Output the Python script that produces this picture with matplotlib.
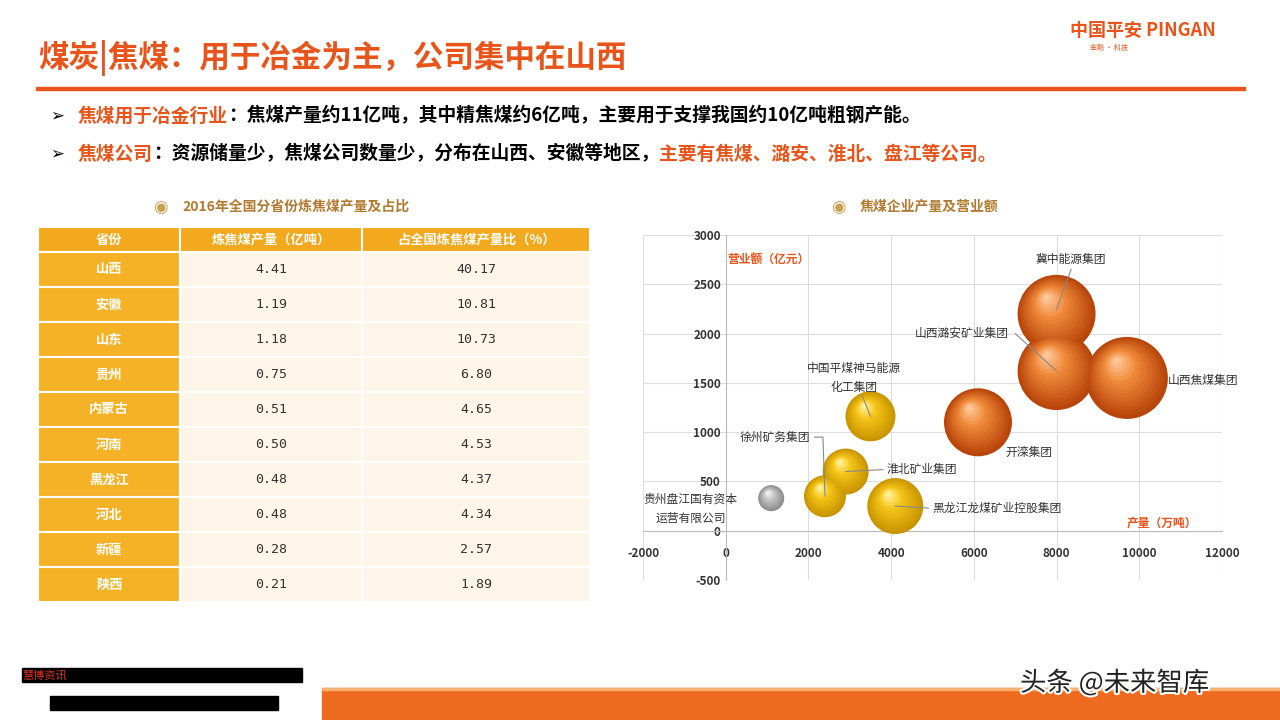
import matplotlib
matplotlib.use("Agg")
import matplotlib.pyplot as plt
from matplotlib.patches import Rectangle
import matplotlib.patheffects as pe
import numpy as np

plt.rcParams['font.family'] = ['Noto Sans CJK SC', 'DejaVu Sans']
plt.rcParams['axes.unicode_minus'] = False

provinces = ["山西", "安徽", "山东", "贵州", "内蒙古", "河南", "黑龙江", "河北", "新疆", "陕西"]
output = ["4.41", "1.19", "1.18", "0.75", "0.51", "0.50", "0.48", "0.48", "0.28", "0.21"]
share = ["40.17", "10.81", "10.73", "6.80", "4.65", "4.53", "4.37", "4.34", "2.57", "1.89"]
headers = ["省份", "炼焦煤产量（亿吨）", "占全国炼焦煤产量比（%）"]

companies = ["冀中能源集团", "山西潞安矿业集团", "山西焦煤集团", "开滦集团", "中国平煤神马能源\n化工集团",
             "淮北矿业集团", "徐州矿务集团", "黑龙江龙煤矿业控股集团", "贵州盘江国有资本\n运营有限公司"]
prod = [8000, 8000, 9700, 6100, 3500, 2900, 2400, 4100, 1100]
revenue = [2200, 1620, 1550, 1100, 1160, 600, 350, 250, 330]
bubble = [39, 39, 41, 34, 25, 23, 21, 28, 13]
kind = ["o", "o", "o", "o", "y", "y", "y", "y", "g"]
label_pos = [(7500, 2750, "left"), (6850, 2000, "right"), (10700, 1520, "left"), (6750, 790, "left"),
             (3100, 1550, "center"), (3900, 620, "left"), (2050, 950, "right"), (5000, 230, "left"),
             (-850, 220, "center")]
leaders = [[(8000, 2250), (8350, 2650)], [(8000, 1620), (7000, 2000)], None, None,
           [(3500, 1160), (3300, 1370)], [(2900, 600), (3800, 620)], [(2400, 350), (2350, 950), (2150, 950)],
           [(4100, 250), (4900, 230)], None]

fig = plt.figure(figsize=(12.8, 7.2), dpi=100)
W, H = 1280, 720
def fx(x): return x / W
def fy(y): return 1 - y / H

orange = "#E8541A"
fig.text(fx(38), fy(58), "煤炭|焦煤：用于冶金为主，公司集中在山西", fontsize=22, color=orange,
         fontweight="bold", va="center")
fig.add_artist(Rectangle((fx(36), fy(90)), fx(1245 - 36), 3 / H, color=orange, transform=fig.transFigure))
fig.text(fx(1070), fy(30), "中国平安 PINGAN", fontsize=13, color="#E8541A", fontweight="bold", va="center")
fig.text(fx(1090), fy(48), "金融 · 科技", fontsize=5, color="#E8541A", va="center")

renderer = fig.canvas.get_renderer()
def chain(x, y, parts):
    for txt, col in parts:
        t = fig.text(fx(x), fy(y), txt, fontsize=13.5, color=col, va="center", fontweight="bold")
        x += t.get_window_extent(renderer).width

fig.text(fx(50), fy(116), "➢", fontsize=12, va="center", family=['DejaVu Sans'])
chain(78, 116, [("焦煤用于冶金行业", orange), ("：焦煤产量约11亿吨，其中精焦煤约6亿吨，主要用于支撑我国约10亿吨粗钢产能。", "black")])
fig.text(fx(50), fy(154), "➢", fontsize=12, va="center", family=['DejaVu Sans'])
chain(78, 154, [("焦煤公司", orange), ("：资源储量少，焦煤公司数量少，分布在山西、安徽等地区，", "black"),
                ("主要有焦煤、潞安、淮北、盘江等公司。", orange)])

for x, t in [(160, "2016年全国分省份炼焦煤产量及占比"), (838, "焦煤企业产量及营业额")]:
    fig.text(fx(x), fy(207), "◉", fontsize=12, color="#C8A050", va="center", ha="center", family=['DejaVu Sans'])
    fig.text(fx(x + 22), fy(207), t, fontsize=10, color="#B07A30", va="center", fontweight="bold")

tax = fig.add_axes([fx(38), fy(602), fx(590 - 38), (602 - 227) / H])
tax.set_xlim(0, 552); tax.set_ylim(375, 0); tax.axis("off")
cols = [0, 142, 324, 552]
rows_y = [0, 25] + [25 + 35 * (i + 1) for i in range(10)]
for j in range(3):
    tax.add_patch(Rectangle((cols[j], 0), cols[j + 1] - cols[j], 25, facecolor="#F2A91E", edgecolor="white", lw=1.5))
    tax.text((cols[j] + cols[j + 1]) / 2, 12.5, headers[j], ha="center", va="center", color="white",
             fontsize=9.5, fontweight="bold")
for i in range(10):
    y0 = rows_y[i + 1]; h = rows_y[i + 2] - y0
    vals = [provinces[i], output[i], share[i]]
    for j in range(3):
        fc = "#F5B227" if j == 0 else "#FDF6E8"
        tax.add_patch(Rectangle((cols[j], y0), cols[j + 1] - cols[j], h, facecolor=fc, edgecolor="white", lw=1.5))
        tax.text((cols[j] + cols[j + 1]) / 2, y0 + h / 2, vals[j], ha="center", va="center",
                 color="white" if j == 0 else "#333333", fontsize=9.5, fontweight="bold" if j == 0 else "normal",
                 family=['Noto Sans CJK SC'] if j == 0 else ['DejaVu Sans Mono'])

ax = fig.add_axes([fx(643), fy(580), fx(1222 - 643), (580 - 235) / H])
ax.set_xlim(-2000, 12000); ax.set_ylim(-500, 3000)
ax.set_xticks(range(-2000, 12001, 2000)); ax.set_yticks(range(-500, 3001, 500))
ax.grid(True, color="#DDDDDD", lw=0.8)
ax.set_axisbelow(True)
for s in ax.spines.values():
    s.set_visible(False)
ax.spines['left'].set_visible(True); ax.spines['left'].set_position(('data', 0)); ax.spines['left'].set_color("#BBBBBB")
ax.spines['bottom'].set_visible(True); ax.spines['bottom'].set_position(('data', 0)); ax.spines['bottom'].set_color("#BBBBBB")
ax.tick_params(length=0, labelsize=8.5, colors="#333333")
ax.tick_params(axis='x', pad=12)
for lab in ax.get_xticklabels() + ax.get_yticklabels():
    lab.set_fontweight("bold")

cmaps = {"o": ("#B8450A", "#F08A3A", "#FFC89A"), "y": ("#C89500", "#F5C518", "#FFF3A0"),
         "g": ("#8C8C8C", "#C8C8C8", "#F5F5F5")}
order = np.argsort(bubble)[::-1]
for i in order:
    dark, mid, light = cmaps[kind[i]]
    r = bubble[i]
    n = 14
    c1 = np.array(matplotlib.colors.to_rgb(dark)); c2 = np.array(matplotlib.colors.to_rgb(mid))
    c3 = np.array(matplotlib.colors.to_rgb(light))
    for k in range(n):
        f = 1 - k / n
        t = k / (n - 1)
        col = c1 + (c2 - c1) * min(t * 1.6, 1) if t < 0.62 else c2 + (c3 - c2) * (t - 0.62) / 0.38
        off = (1 - f) * r * 0.45
        sc = ax.scatter([prod[i]], [revenue[i]], s=(2 * r * f * 0.72) ** 2, color=col, edgecolors="none",
                        zorder=3 + k * 0.01)
        sc.set_offset_transform(ax.transData + matplotlib.transforms.ScaledTranslation(
            -off * 0.6 / 100, off / 100, fig.dpi_scale_trans))

for i in range(len(companies)):
    lx, ly, ha = label_pos[i]
    ax.text(lx, ly, companies[i], fontsize=8.5, color="#333333", ha=ha, va="center", zorder=10,
            linespacing=1.6)
    if leaders[i]:
        xs, ys = zip(*leaders[i])
        ax.plot(xs, ys, color="#888888", lw=0.8, zorder=5)

ax.text(50, 2750, "营业额（亿元）", fontsize=8.5, color=orange, fontweight="bold", va="center")
ax.text(9700, 80, "产量（万吨）", fontsize=8.5, color=orange, fontweight="bold", va="center")

fig.add_artist(Rectangle((fx(322), 0), fx(1280 - 322), 32 / H, color="#EE6A1E", transform=fig.transFigure))
fig.add_artist(Rectangle((fx(322), 30 / H), fx(1280 - 322), 2 / H, color="#F8B070", transform=fig.transFigure))
fig.add_artist(Rectangle((fx(22), fy(682)), fx(280), 14 / H, color="black", transform=fig.transFigure))
fig.add_artist(Rectangle((fx(50), fy(710)), fx(228), 14 / H, color="black", transform=fig.transFigure))
fig.text(fx(22), fy(675), "慧博资讯", fontsize=8, color="#E03020", va="center")
fig.text(fx(1020), fy(683), "头条 @未来智库", fontsize=19, color="#222222", va="center",
         path_effects=[pe.withStroke(linewidth=3, foreground="white")])

fig.savefig("out.png", dpi=100)
